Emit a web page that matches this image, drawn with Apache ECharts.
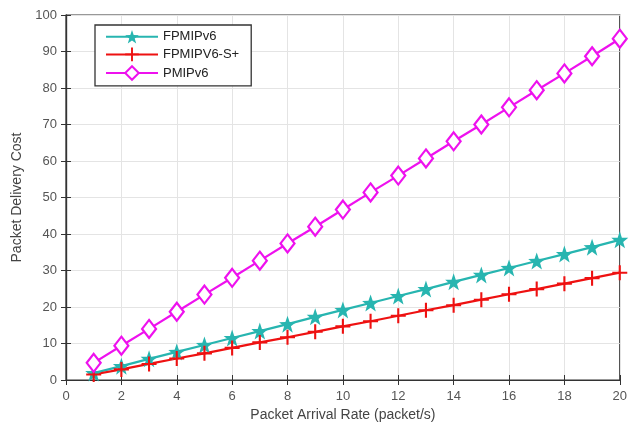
<!DOCTYPE html>
<html><head><meta charset="utf-8">
<script src="https://cdn.jsdelivr.net/npm/echarts@6/dist/echarts.min.js"></script>
<style>html,body{margin:0;padding:0;background:#fff;}#c{width:630px;height:432px;}</style>
</head><body><div id="c"></div>
<script>
const xValues = [1,2,3,4,5,6,7,8,9,10,11,12,13,14,15,16,17,18,19,20];
const fpmipv6 = [1.9,3.8,5.8,7.7,9.6,11.5,13.4,15.3,17.3,19.2,21.1,23.0,24.9,26.9,28.8,30.7,32.6,34.5,36.4,38.4];
const fpmipv6s = [1.5,2.9,4.4,5.9,7.3,8.8,10.3,11.7,13.2,14.7,16.1,17.6,19.1,20.5,22.0,23.5,24.9,26.4,27.9,29.4];
const pmipv6 = [4.7,9.4,14.0,18.7,23.4,28.0,32.7,37.4,42.0,46.7,51.4,56.0,60.7,65.4,70.0,74.7,79.4,84.0,88.7,93.5];
const names = ['FPMIPv6','FPMIPV6-S+','PMIPv6'];

const pair = arr => xValues.map((x,i)=>[x,arr[i]]);
const chart = echarts.init(document.getElementById('c'));
const font = 'Liberation Sans';
const axisCommon = {
  axisLine:{lineStyle:{color:'#333',width:1.2}},
  axisTick:{inside:true,length:5,lineStyle:{color:'#333'}},
  splitLine:{show:true,lineStyle:{color:'#e4e4e4'}}
};
chart.setOption({
  animation:false,
  grid:{left:66,right:9,top:15,bottom:52,show:true,borderColor:'#333',borderWidth:1.2},
  legend:{
    left:95, top:25, orient:'vertical', itemGap:4, itemWidth:52, itemHeight:17,
    backgroundColor:'#fff', borderColor:'#333', borderWidth:1.3, padding:[5,12,5,10],
    textStyle:{fontFamily:font,fontSize:13,color:'#222'},
    data:names
  },
  xAxis:[
    Object.assign({type:'value',min:0,max:20,interval:2,
    name:'Packet Arrival Rate (packet/s)',nameLocation:'middle',nameGap:27,
    nameTextStyle:{fontFamily:font,fontSize:14,color:'#444'},
    axisLabel:{fontFamily:font,fontSize:13,color:'#555',margin:10}},axisCommon),
    Object.assign({type:'value',position:'top',min:0,max:20,interval:2,
    axisLabel:{show:false}},axisCommon,{splitLine:{show:false}})
  ],
  yAxis:[
    Object.assign({type:'value',min:0,max:100,interval:10,
    name:'Packet Delivery Cost',nameLocation:'middle',nameGap:40,
    nameTextStyle:{fontFamily:font,fontSize:14,color:'#444'},
    axisLabel:{fontFamily:font,fontSize:13,color:'#555',margin:9}},axisCommon),
    Object.assign({type:'value',position:'right',min:0,max:100,interval:10,
    axisLabel:{show:false}},axisCommon,{splitLine:{show:false}})
  ],
  series:[
    {name:names[0],type:'line',data:pair(fpmipv6),
     lineStyle:{width:2.2,color:'#27b5b0'},symbol:'path://M0,-10 L2.35,-3.24 L9.51,-3.09 L3.8,1.24 L5.88,8.09 L0,4 L-5.88,8.09 L-3.8,1.24 L-9.51,-3.09 L-2.35,-3.24 Z',
     symbolSize:17,itemStyle:{color:'#27b5b0'}},
    {name:names[1],type:'line',data:pair(fpmipv6s),
     lineStyle:{width:2.2,color:'#ee1111'},symbol:'path://M-1.4,-10 L1.4,-10 L1.4,-1.4 L10,-1.4 L10,1.4 L1.4,1.4 L1.4,10 L-1.4,10 L-1.4,1.4 L-10,1.4 L-10,-1.4 L-1.4,-1.4 Z',
     symbolSize:15,itemStyle:{color:'#ee1111'}},
    {name:names[2],type:'line',data:pair(pmipv6),
     lineStyle:{width:2.2,color:'#ee11ee'},symbol:'diamond',symbolSize:[14,18],
     itemStyle:{color:'#ffffff',borderColor:'#ee11ee',borderWidth:2.2}}
  ]
});
</script></body></html>
